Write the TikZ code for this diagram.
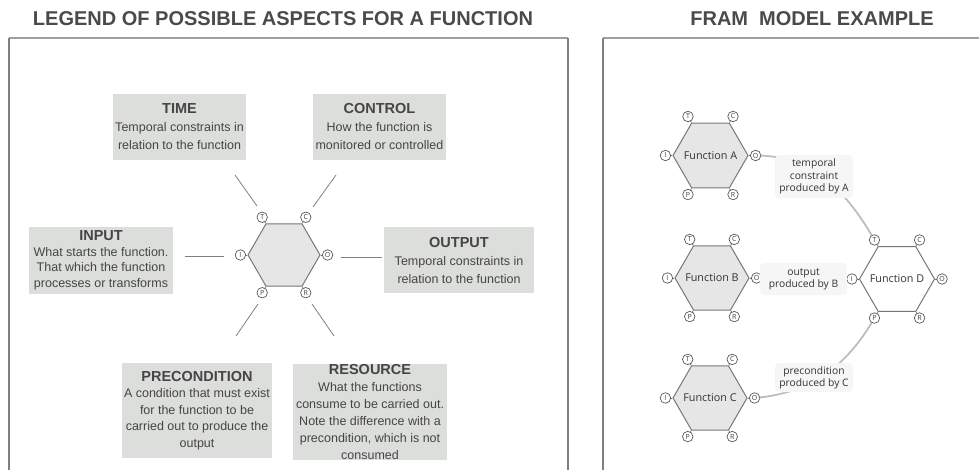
\documentclass[tikz,border=0pt]{standalone}
\usepackage{fontspec}
\setmainfont{Liberation Sans}
\newfontfamily\osans{Open Sans}
\usetikzlibrary{shapes.geometric,calc}
\definecolor{boxfill}{HTML}{DCDEDB}
\definecolor{txt}{HTML}{454545}
\definecolor{ttl}{HTML}{4A4A4A}
\definecolor{framev}{HTML}{808080}
\definecolor{frameh}{HTML}{A0A0A0}
\definecolor{hexline}{HTML}{777777}
\definecolor{hexfill}{HTML}{E6E6E6}
\definecolor{linkc}{HTML}{BDBDBD}
\definecolor{lblfill}{HTML}{F6F6F6}
\newcommand\boxtitle[1]{{\bfseries\fontsize{14.5}{17}\selectfont #1}}
\newcommand\aspects[1]{%
  \foreach \a/\l in {120/T,60/C,180/I,0/O,240/P,300/R}{
    \draw[hexline, line width=0.7pt] (#1.\a) -- ($(#1.\a)+(\a:7pt)$);
    \node[asp] (#1\l) at ($(#1.\a)+(\a:7pt)$) {\l};
  }}
\tikzset{
  legbox/.style={fill=boxfill, inner sep=0, align=center, text=txt},
  hexa/.style={regular polygon, regular polygon sides=6, draw=hexline, line width=1pt, fill=hexfill, minimum size=#1, inner sep=0},
  asp/.style={circle, draw=black!65, fill=white, line width=0.7pt, minimum size=10.5pt, inner sep=0, font=\osans\fontsize{7}{7}\selectfont, text=black!75},
  spoke/.style={draw=framev, line width=0.8pt},
  ftext/.style={font=\osans\fontsize{10.8}{12}\selectfont, text=black!80},
  lbl/.style={fill=lblfill, rounded corners=4pt, inner sep=0, align=center, font=\osans\fontsize{10.3}{12.3}\selectfont, text=black!80},
  linkline/.style={draw=linkc, line width=1.8pt},
  ttlnode/.style={font=\bfseries\fontsize{20}{24}\selectfont, text=ttl},
}
\begin{document}
\begin{tikzpicture}[x=1pt,y=-1pt]
\useasboundingbox (0,0) rectangle (979,470);
% titles
\node[ttlnode] (t1) at (283,19) {LEGEND OF POSSIBLE ASPECTS FOR A FUNCTION};
\node[ttlnode] (t2) at (812,19) {FRAM\ \ MODEL EXAMPLE};
% panels
\draw[draw=frameh, line width=1.8pt] (9,38) -- (568,38);
\draw[draw=framev, line width=1.2pt] (9,470) -- (9,38) (568,38) -- (568,470);
\draw[draw=frameh, line width=1.8pt] (603,38) -- (979,38);
\draw[draw=framev, line width=1.2pt] (603,38) -- (603,470);
% legend boxes
\node[legbox, minimum width=133pt, minimum height=66pt, font=\fontsize{12.5}{18}\selectfont] (time) at (179.5,127)
  {\boxtitle{TIME}\\Temporal constraints in\\relation to the function};
\node[legbox, minimum width=133pt, minimum height=66pt, font=\fontsize{12.5}{18}\selectfont] (control) at (379.5,127)
  {\boxtitle{CONTROL}\\How the function is\\monitored or controlled};
\node[legbox, minimum width=144pt, minimum height=67pt, font=\fontsize{12.5}{15.5}\selectfont] (input) at (101,260.5)
  {\boxtitle{INPUT}\\What starts the function.\\That which the function\\processes or transforms};
\node[legbox, minimum width=150pt, minimum height=66pt, font=\fontsize{12.5}{18}\selectfont] (output) at (459,260)
  {\boxtitle{OUTPUT}\\Temporal constraints in\\relation to the function};
\node[legbox, minimum width=150pt, minimum height=95pt, font=\fontsize{12.5}{16.5}\selectfont] (precond) at (197,410.5)
  {\boxtitle{PRECONDITION}\\A condition that must exist\\for the function to be\\carried out to produce the\\output};
\node[legbox, minimum width=154pt, minimum height=96pt, font=\fontsize{12.5}{17}\selectfont] (resource) at (370,412)
  {\boxtitle{RESOURCE}\\What the functions\\consume to be carried out.\\Note the difference with a\\precondition, which is not\\consumed};
% legend hexagon
\node[hexa=72pt] (L) at (284,255) {};
\aspects{L}
% spokes
\coordinate (sT1) at (235,175); \coordinate (sT2) at (257,206);
\coordinate (sC1) at (336,175); \coordinate (sC2) at (313,207);
\coordinate (sI1) at (185,256); \coordinate (sI2) at (224,256);
\coordinate (sO1) at (341,257); \coordinate (sO2) at (382,257);
\coordinate (sP1) at (258,304); \coordinate (sP2) at (236,336);
\coordinate (sR1) at (312,304); \coordinate (sR2) at (334,336);
\foreach \s in {T,C,I,O,P,R}{\draw[spoke] (s\s1) -- (s\s2);}
% FRAM model example
\node[hexa=75pt] (A) at (710.5,155.5) {};
\node[hexa=74pt] (B) at (712,278) {};
\node[hexa=74pt] (C) at (710,398) {};
\node[hexa=75pt, fill=white] (D) at (897,279) {};
\node[ftext] (At) at (A) {Function A};
\node[ftext] (Bt) at (B) {Function B};
\node[ftext] (Ct) at (C) {Function C};
\node[ftext] (Dt) at (D) {Function D};
\coordinate (AOc) at ($(A.0)+(7pt,0)$);
\coordinate (BOc) at ($(B.0)+(7pt,0)$);
\coordinate (COc) at ($(C.0)+(7pt,0)$);
\coordinate (DTc) at ($(D.120)+(120:7pt)$);
\coordinate (DIc) at ($(D.180)+(-7pt,0)$);
\coordinate (DPc) at ($(D.240)+(240:7pt)$);
\draw[linkline] (AOc) to[out=0,in=120] (DTc);
\draw[linkline] (BOc) -- (DIc);
\draw[linkline] (COc) to[out=5,in=-120] (DPc);
\aspects{A}
\aspects{B}
\aspects{C}
\aspects{D}
\node[lbl, minimum width=78pt, minimum height=43pt] (la) at (814,176.5) {temporal\\constraint\\produced by A};
\node[lbl, minimum width=87pt, minimum height=32pt] (lb) at (803.5,279) {output\\produced by B};
\node[lbl, minimum width=78pt, minimum height=29pt] (lc) at (814,377.5) {precondition\\produced by C};
\end{tikzpicture}
\end{document}
